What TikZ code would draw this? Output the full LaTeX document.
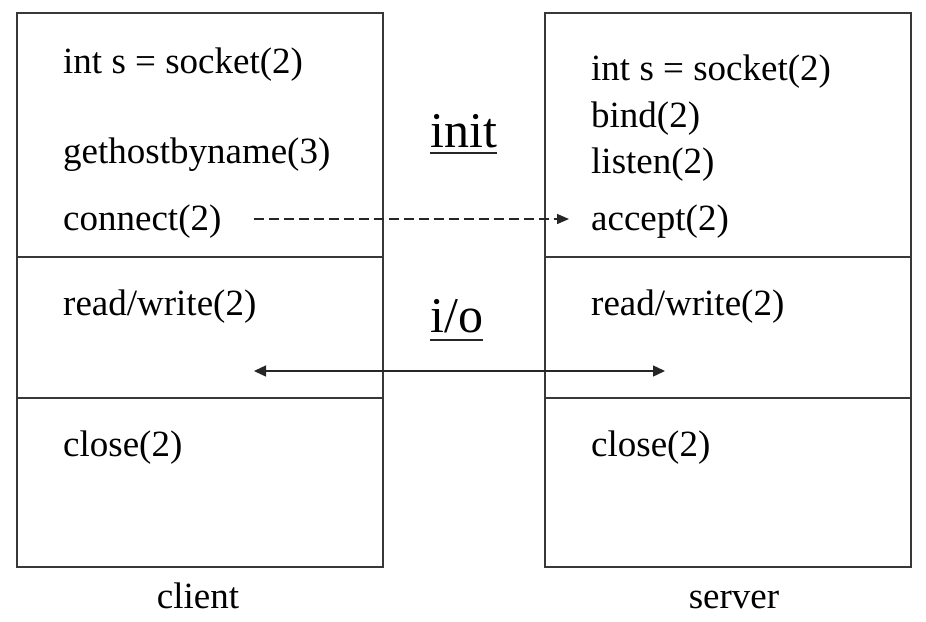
\documentclass[tikz,border=0pt]{standalone}
\usepackage{fontspec}
\setmainfont{Liberation Serif}
\usetikzlibrary{arrows.meta}
\begin{document}
\begin{tikzpicture}[x=1pt,y=-1pt,
  frame/.style={draw=black!78,line width=1.5pt},
  txt/.style={anchor=base west,inner sep=0pt,font=\fontsize{37}{44}\selectfont},
  lbl/.style={anchor=base,inner sep=0pt,font=\fontsize{37}{44}\selectfont},
  big/.style={anchor=base west,inner sep=0pt,font=\fontsize{50}{60}\selectfont},
  uline/.style={draw=black!85,line width=2.2pt},
  tip/.style={-{Triangle[length=12pt,width=10pt]}},
  dtip/.style={{Triangle[length=12pt,width=11pt]}-{Triangle[length=12pt,width=11pt]}},
  link/.style={draw=black!85,line width=1.4pt}]
\useasboundingbox (0,0) rectangle (926,621);
% boxes
\draw[frame] (17,13) rectangle (383,567);
\draw[frame] (17,257) -- (383,257);
\draw[frame] (17,398) -- (383,398);
\draw[frame] (545,13) rectangle (911,567);
\draw[frame] (545,257) -- (911,257);
\draw[frame] (545,398) -- (911,398);
% client texts
\node[txt] (csock) at (63,73) {int s = socket(2)};
\node[txt] (cghbn) at (63,163) {gethostbyname(3)};
\node[txt] (connect) at (63,230) {connect(2)};
\node[txt] (crw) at (63,315) {read/write(2)};
\node[txt] (cclose) at (63,456) {close(2)};
% server texts
\node[txt] (ssock) at (591,80) {int s = socket(2)};
\node[txt] (sbind) at (591,127) {bind(2)};
\node[txt] (slisten) at (591,173) {listen(2)};
\node[txt] (accept) at (591,230) {accept(2)};
\node[txt] (srw) at (591,315) {read/write(2)};
\node[txt] (sclose) at (591,456) {close(2)};
% labels
\node[lbl] (client) at (198,608) {client};
\node[lbl] (server) at (734,608) {server};
\node[big] (init) at (430,147) {init};
\node[big] (io) at (430,332) {i/o};
\draw[uline] ([yshift=-6pt]init.base west) -- ([yshift=-6pt]init.base east);
\draw[uline] ([yshift=-8pt]io.base west) -- ([yshift=-8pt]io.base east);
% connectors
\draw[link,dash pattern=on 10pt off 5pt,tip] ([shift={(32,-11)}]connect.base east) -- ([shift={(-22,-11)}]accept.base west);
\coordinate (ioL) at (254,371);
\coordinate (ioR) at (665,371);
\draw[link,dtip] (ioL) -- (ioR);
\end{tikzpicture}
\end{document}
